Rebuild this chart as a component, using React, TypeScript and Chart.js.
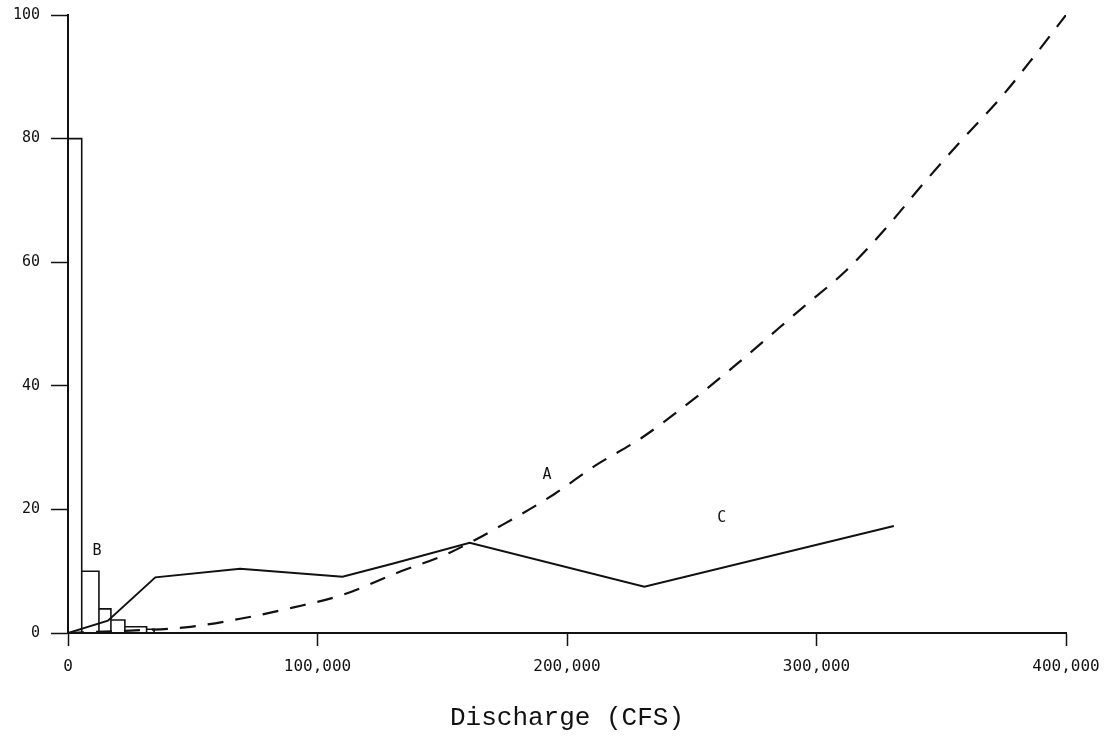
import { useEffect, useRef } from "react";
import { Chart, registerables } from "chart.js";

Chart.register(...registerables);

// Axis ranges and ticks
const xMax = 400000;
const xStep = 100000;
const yMax = 100;
const yStep = 20;

// Curve A (dashed): discharge in CFS and value
const curveAFlow = [0, 25000, 47000, 69000, 90000, 111000, 131000, 153000, 175000, 195000, 211000, 230000, 250000, 268000, 294000, 312000, 328000, 343000, 359000, 374000, 387000, 400000];
const curveAValue = [0, 0.4, 0.9, 2.3, 4.1, 6.3, 9.6, 13.0, 17.7, 22.5, 27.0, 31.6, 37.6, 43.5, 52.5, 58.7, 65.6, 72.8, 80.1, 86.7, 93.2, 100];

// Curve C (solid)
const curveCFlow = [0, 16000, 35000, 69000, 110000, 130000, 161000, 231000, 331000];
const curveCValue = [0, 2.0, 9.0, 10.4, 9.1, 11.2, 14.6, 7.5, 17.3];

// Histogram B: bin edges (CFS) and bar heights
const histEdges = [0, 5500, 12400, 17200, 22800, 31500, 34500];
const histHeights = [80, 10, 3.9, 2.1, 1.0, 0.6];

// Curve labels and where they sit (data coordinates)
const curveLabels = ["A", "B", "C"];
const labelFlows = [192000, 11600, 262000];
const labelValues = [25.6, 13.3, 18.6];

const INK = "#111111";

function toPoints(xs: number[], ys: number[]) {
  return xs.map((x, i) => ({ x, y: ys[i] }));
}

function histogramOutline(edges: number[], heights: number[]) {
  const pts: { x: number; y: number }[] = [];
  heights.forEach((h, i) => {
    pts.push({ x: edges[i], y: 0 });
    pts.push({ x: edges[i], y: h });
    pts.push({ x: edges[i + 1], y: h });
    pts.push({ x: edges[i + 1], y: 0 });
  });
  return pts;
}

const curveLabelPlugin = {
  id: "curveLabels",
  afterDatasetsDraw(chart: any) {
    const { ctx, scales } = chart;
    ctx.save();
    ctx.fillStyle = INK;
    ctx.font = "15px 'DejaVu Sans Mono'";
    ctx.textAlign = "center";
    ctx.textBaseline = "middle";
    curveLabels.forEach((t, i) => {
      ctx.fillText(t, scales.x.getPixelForValue(labelFlows[i]), scales.y.getPixelForValue(labelValues[i]));
    });
    ctx.restore();
  },
};

export default function App() {
  const canvasRef = useRef<HTMLCanvasElement | null>(null);

  useEffect(() => {
    if (!canvasRef.current) return;
    const chart = new Chart(canvasRef.current, {
      type: "line",
      data: {
        datasets: [
          {
            label: "A",
            data: toPoints(curveAFlow, curveAValue),
            borderColor: INK,
            borderWidth: 2.2,
            borderDash: [16, 12],
            cubicInterpolationMode: "monotone",
            pointRadius: 0,
            fill: false,
          },
          {
            label: "B",
            data: histogramOutline(histEdges, histHeights),
            borderColor: INK,
            borderWidth: 1.6,
            tension: 0,
            pointRadius: 0,
            fill: false,
          },
          {
            label: "C",
            data: toPoints(curveCFlow, curveCValue),
            borderColor: INK,
            borderWidth: 2,
            tension: 0,
            pointRadius: 0,
            fill: false,
          },
        ],
      },
      options: {
        animation: false,
        responsive: false,
        parsing: false as any,
        layout: { padding: { top: 15, right: 38, bottom: 0, left: 0 } },
        plugins: {
          legend: { display: false },
          tooltip: { enabled: false },
        },
        scales: {
          x: {
            type: "linear",
            min: 0,
            max: xMax,
            afterFit(scale: any) {
              scale.height = 106;
              scale.paddingLeft = 0;
              scale.paddingRight = 0;
            },
            border: { display: true, color: INK, width: 2 },
            grid: {
              drawOnChartArea: false,
              drawTicks: true,
              tickLength: 13,
              tickColor: INK,
              tickWidth: 1.5,
            },
            ticks: {
              stepSize: xStep,
              autoSkip: false,
              maxRotation: 0,
              padding: 11,
              color: INK,
              font: { family: "'DejaVu Sans Mono'", size: 16 },
              callback: (v: any) => Number(v).toLocaleString("en-US"),
            },
            title: {
              display: true,
              text: "Discharge (CFS)",
              color: INK,
              font: { family: "'Liberation Mono'", size: 26 },
              padding: { top: 0, bottom: 5 },
            },
          },
          y: {
            type: "linear",
            min: 0,
            max: yMax,
            afterFit(scale: any) {
              scale.width = 68;
              scale.paddingTop = 0;
              scale.paddingBottom = 0;
            },
            border: { display: true, color: INK, width: 2 },
            grid: {
              drawOnChartArea: false,
              drawTicks: true,
              tickLength: 17,
              tickColor: INK,
              tickWidth: 1.5,
            },
            ticks: {
              stepSize: yStep,
              padding: 11,
              color: INK,
              font: { family: "'DejaVu Sans Mono'", size: 15 },
            },
          },
        },
      },
      plugins: [curveLabelPlugin],
    });
    return () => chart.destroy();
  }, []);

  return (
    <div style={{ position: "absolute", left: 0, top: 0, width: 1104, height: 739, background: "#fff" }}>
      <canvas ref={canvasRef} width={1104} height={739} style={{ display: "block" }} />
    </div>
  );
}
